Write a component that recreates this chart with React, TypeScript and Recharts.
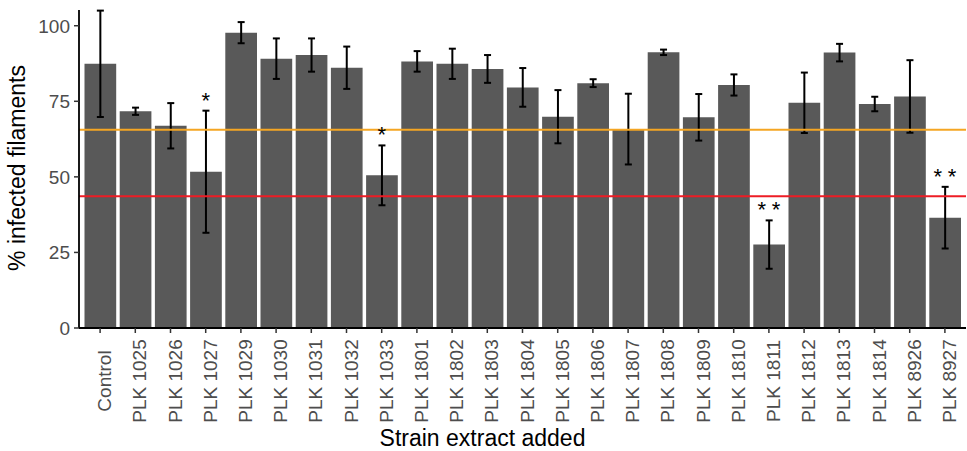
import {
  ComposedChart,
  Bar,
  Line,
  XAxis,
  YAxis,
  ErrorBar,
  ReferenceLine,
  LabelList,
} from "recharts";

const strains = [
  "Control", "PLK 1025", "PLK 1026", "PLK 1027", "PLK 1029", "PLK 1030",
  "PLK 1031", "PLK 1032", "PLK 1033", "PLK 1801", "PLK 1802", "PLK 1803",
  "PLK 1804", "PLK 1805", "PLK 1806", "PLK 1807", "PLK 1808", "PLK 1809",
  "PLK 1810", "PLK 1811", "PLK 1812", "PLK 1813", "PLK 1814", "PLK 8926",
  "PLK 8927",
];

const infected = [
  87.4, 71.7, 66.9, 51.7, 97.7, 89.1, 90.3, 86.1, 50.5, 88.2, 87.4, 85.7,
  79.6, 69.9, 81.0, 65.8, 91.2, 69.7, 80.4, 27.6, 74.5, 91.1, 74.1, 76.6,
  36.5,
];

const stdErr = [
  17.6, 1.2, 7.5, 20.2, 3.5, 6.7, 5.5, 7.0, 9.9, 3.4, 5.0, 4.6, 6.4, 8.8,
  1.3, 11.7, 0.9, 7.7, 3.5, 8.0, 10.0, 2.9, 2.4, 12.0, 10.2,
];

const signif = [
  "", "", "", "*", "", "", "", "", "*", "", "", "", "", "", "", "", "", "",
  "", "**", "", "", "", "", "**",
];

const yTicks = [0, 25, 50, 75, 100];
const orangeLine = 65.6;
const redLine = 43.6;

const data = strains.map((name, i) => ({
  name,
  value: infected[i],
  err: stdErr[i],
  sig: signif[i],
  sigPos: signif[i] ? infected[i] + stdErr[i] : null,
}));

const font = "'Liberation Sans', Arial, Helvetica, sans-serif";

const XTick = ({ x, payload }: any) => (
  <text
    transform={`translate(${x + 11}, 381) rotate(-90)`}
    textAnchor="middle"
    fontSize={19}
    fontFamily={font}
    fill="#4d4d4d"
  >
    {payload.value}
  </text>
);

const YTick = ({ x, y, payload }: any) => (
  <text
    x={x - 2}
    y={y}
    dy={7}
    textAnchor="end"
    fontSize={19}
    fontFamily={font}
    fill="#4d4d4d"
  >
    {payload.value}
  </text>
);

const YTitle = () => (
  <text
    transform="translate(25, 168) rotate(-90)"
    textAnchor="middle"
    fontSize={23}
    fontFamily={font}
    fill="#000"
  >
    % infected filaments
  </text>
);

const Stars = ({ x, y, value }: any) => {
  if (!value) return null;
  const sp = value.length > 1 ? 5.5 : 0;
  return (
    <text
      x={x}
      y={y}
      dx={sp / 2}
      dy={-3}
      textAnchor="middle"
      fontSize={22}
      fontFamily={font}
      letterSpacing={sp}
      fill="#000"
    >
      {value}
    </text>
  );
};

export default function App() {
  return (
    <div style={{ position: "absolute", left: 0, top: 0, background: "#fff" }}>
      <ComposedChart
        width={967}
        height={451}
        data={data}
        margin={{ top: 10, right: 1, left: 0, bottom: 0 }}
      >
        <XAxis
          dataKey="name"
          height={123}
          padding={{ left: 3.5, right: 3.5 }}
          tick={<XTick />}
          interval={0}
          axisLine={{ stroke: "#000", strokeWidth: 1.8 }}
          tickLine={{ stroke: "#333", strokeWidth: 1.5 }}
          tickSize={5}
          label={{
            value: "Strain extract added",
            position: "insideBottom",
            offset: 5,
            fontSize: 23,
            fontFamily: font,
            fill: "#000",
            dx: -40,
          }}
        />
        <YAxis
          width={79}
          domain={[0, 105.2]}
          ticks={yTicks}
          allowDataOverflow
          tick={<YTick />}
          axisLine={{ stroke: "#000", strokeWidth: 1.8 }}
          tickLine={{ stroke: "#333", strokeWidth: 1.5 }}
          tickSize={5}
          label={<YTitle />}
        />
        <Bar dataKey="value" fill="#595959" barSize={31.7} isAnimationActive={false}>
          <ErrorBar
            dataKey="err"
            direction="y"
            width={3.5}
            stroke="#000"
            strokeWidth={2}
            isAnimationActive={false}
          />
        </Bar>
        <ReferenceLine y={orangeLine} stroke="#f5a623" strokeWidth={2} />
        <ReferenceLine y={redLine} stroke="#ee1c25" strokeWidth={2} />
        <Line
          dataKey="sigPos"
          stroke="none"
          dot={false}
          activeDot={false}
          legendType="none"
          isAnimationActive={false}
        >
          <LabelList dataKey="sig" content={<Stars />} />
        </Line>
      </ComposedChart>
    </div>
  );
}
